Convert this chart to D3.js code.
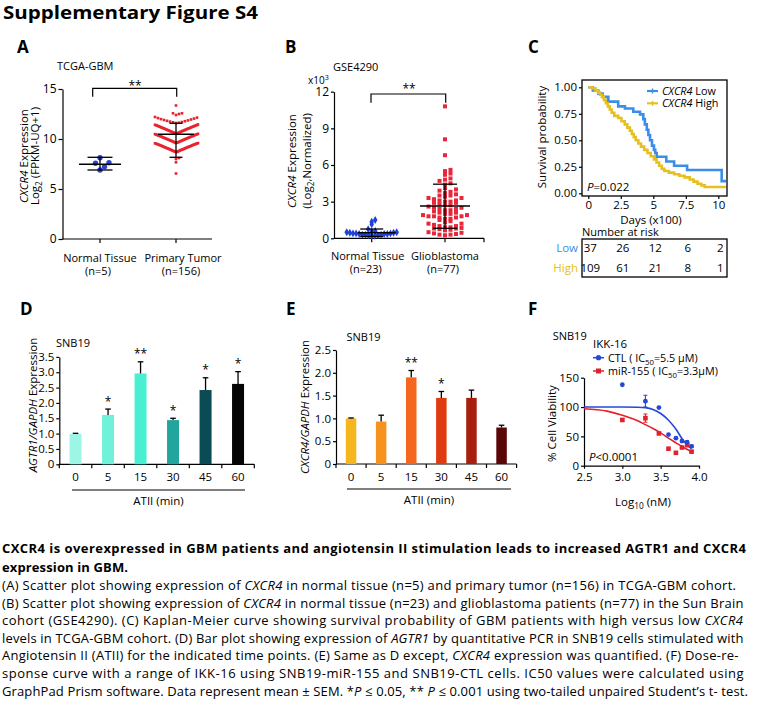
<!DOCTYPE html>
<html><head><meta charset="utf-8">
<script src="https://cdn.jsdelivr.net/npm/d3@7/dist/d3.min.js"></script>
<style>html,body{margin:0;padding:0;background:#fff;}svg{display:block}</style>
</head><body>
<svg id="fig" width="758" height="702" xmlns="http://www.w3.org/2000/svg"></svg>
<script>
// ================= DATA =================
// Panel A (TCGA-GBM)
const aCategories = ["Normal Tissue", "Primary Tumor"];
const aCounts = ["(n=5)", "(n=156)"];
const aNormal = [7.57, 6.9, 8.13, 7.23, 7.63];
const aTumor = [
  13.35, 12.57, 12.40, 12.50, 12.57, 8.10, 8.00, 7.67, 6.55,
  11.60, 11.63, 11.67, 11.70, 11.74, 11.78, 11.82, 11.86, 11.90, 11.95, 11.99, 12.04, 12.09, 12.14, 12.20,
  10.54, 10.56, 10.58, 10.60, 10.63, 10.64, 10.67, 10.69, 10.71, 10.73, 10.75, 10.78, 10.79, 10.82, 10.84,
  10.86, 10.88, 10.90, 10.92, 10.95, 10.96, 10.99, 11.01, 11.03, 11.05, 11.07, 11.09, 11.11, 11.13, 11.16,
  11.17, 11.20, 11.22, 11.24, 11.26, 11.28, 11.30, 11.32, 11.34, 11.36, 11.38, 11.40, 11.42, 11.45,
  9.61, 9.63, 9.65, 9.67, 9.70, 9.71, 9.74, 9.76, 9.78, 9.80, 9.83, 9.84, 9.87, 9.89, 9.91, 9.93, 9.95,
  9.98, 10.00, 10.02, 10.04, 10.06, 10.08, 10.10, 10.12, 10.15, 10.16, 10.19, 10.21, 10.23, 10.25, 10.27,
  10.29, 10.31, 10.33, 10.35, 10.37, 10.40, 10.41, 10.43, 10.45, 10.47, 10.49, 10.52,
  8.70, 8.71, 8.74, 8.75, 8.78, 8.81, 8.82, 8.85, 8.87, 8.90, 8.91, 8.94, 8.96, 8.97, 9.00, 9.02, 9.05,
  9.06, 9.08, 9.11, 9.12, 9.15, 9.17, 9.19, 9.21, 9.23, 9.26, 9.27, 9.30, 9.31, 9.34, 9.36, 9.38, 9.40,
  9.42, 9.44, 9.46, 9.48, 9.50, 9.51, 9.53, 9.55, 9.57, 9.59
];
const aMean = [7.47, 10.47];
const aErrUp = [8.17, 11.57];
const aErrDown = [6.9, 8.17];
const aYTicks = [0, 5, 10, 15];

// Panel B (GSE4290), x10^3
const bCategories = ["Normal Tissue", "Glioblastoma"];
const bCounts = ["(n=23)", "(n=77)"];
const bNormal = [1.5, 1.35, 1.15, 0.75, 0.6, 0.55, 0.5, 0.5, 0.45, 0.45, 0.4, 0.4, 0.4, 0.35, 0.35, 0.35, 0.3, 0.3, 0.3, 0.25, 0.25, 0.2, 0.2];
const bTumor = [10.8, 8.1, 6.8, 5.6, 5.5, 5.3, 5.2, 4.9, 4.8, 4.7, 4.5, 4.4, 4.1, 4.0, 3.9, 3.8, 3.7, 3.6, 3.5, 3.5,
  3.4, 3.3, 3.3, 3.2, 3.1, 3.1, 3.0, 3.0, 2.9, 2.9, 2.8, 2.7, 2.7, 2.6, 2.5, 2.5, 2.4, 2.4, 2.3, 2.3,
  2.2, 2.1, 2.1, 2.0, 2.0, 1.9, 1.9, 1.8, 1.8, 1.8, 1.7, 1.7, 1.6, 1.6, 1.5, 1.4, 1.3, 1.2, 1.2, 1.1, 1.0, 1.0,
  0.9, 0.9, 0.85, 0.8, 0.8, 0.75, 0.7, 0.65, 0.5, 0.45, 0.4, 0.35, 0.3, 0.3, 0.25];
const bMean = [0.46, 2.65];
const bErrUp = [0.76, 4.43];
const bErrDown = [0.15, 0.82];
const bYTicks = [0, 3, 6, 9, 12];

// Panel C (Kaplan-Meier)
const kmLowTime = [0, 0.35, 0.77, 1.1, 1.54, 2.3, 2.82, 3.46, 3.98, 4.23, 4.35, 4.5, 4.62, 4.75, 4.9, 5.05, 5.15, 5.26, 6.0, 6.6, 7.6, 10.26];
const kmLowSurv = [1.0, 0.97, 0.94, 0.91, 0.865, 0.82, 0.80, 0.77, 0.745, 0.70, 0.65, 0.60, 0.55, 0.50, 0.45, 0.41, 0.38, 0.345, 0.30, 0.26, 0.22, 0.115];
const kmHighTime = [0, 0.3, 0.55, 0.75, 0.9, 1.05, 1.2, 1.35, 1.5, 1.65, 1.8, 2.0, 2.3, 2.55, 2.8, 3.0, 3.2, 3.35, 3.5, 3.65,
  3.85, 4.05, 4.3, 4.55, 4.8, 5.05, 5.25, 5.45, 5.65, 5.85, 6.2, 6.6, 7.0, 7.4, 7.8, 8.1, 8.4, 8.7, 8.95];
const kmHighSurv = [1.0, 0.99, 0.97, 0.95, 0.93, 0.91, 0.88, 0.85, 0.82, 0.79, 0.76, 0.73, 0.71, 0.68, 0.65, 0.62, 0.59, 0.56, 0.53, 0.50,
  0.47, 0.44, 0.41, 0.38, 0.35, 0.32, 0.29, 0.26, 0.23, 0.21, 0.195, 0.18, 0.165, 0.15, 0.13, 0.11, 0.09, 0.075, 0.06];
const kmXTicks = [0, 2.5, 5, 7.5, 10];
const kmYTicks = [0, 0.25, 0.5, 0.75, 1];
const riskTimes = [0, 2.5, 5, 7.5, 10];
const riskLow = [37, 26, 12, 6, 2];
const riskHigh = [109, 61, 21, 8, 1];

// Panels D / E (ATII time course)
const timeLabels = ["0", "5", "15", "30", "45", "60"];
const dValues = [0.99, 1.61, 2.96, 1.44, 2.42, 2.62];
const dErr = [0.02, 0.19, 0.38, 0.06, 0.40, 0.40];
const dSig = ["", "*", "**", "*", "*", "*"];
const dYTicks = [0, 0.5, 1, 1.5, 2, 2.5, 3, 3.5];
const eValues = [1.0, 0.93, 1.9, 1.45, 1.45, 0.8];
const eErr = [0.01, 0.14, 0.15, 0.14, 0.17, 0.05];
const eSig = ["", "", "**", "*", "", ""];
const eYTicks = [0, 0.5, 1, 1.5, 2, 2.5];

// Panel F (IKK-16 dose response)
const fDose = [3.0, 3.301, 3.477, 3.602, 3.699, 3.778, 3.845, 3.903];
const fCtl = [138, 110, 99, 53, 47, 42, 40, 33];
const fCtlErr = [0, 10, 0, 0, 0, 2, 2, 2];
const fMir = [78, 81, 55, 29, 22, 31, 35, 24];
const fMirErr = [2, 7, 0, 0, 0, 0, 2, 2];
const fCurveX = [2.5, 2.8, 3.0, 3.2, 3.3, 3.4, 3.5, 3.6, 3.7, 3.8, 3.9];
const fCtlCurve = [100, 100, 100, 99.7, 99, 96, 89, 78, 62, 42, 29];
const fMirCurve = [97, 93, 86, 76.5, 70, 63.5, 56, 47, 39, 31, 24];
const fXTicks = [2.5, 3.0, 3.5, 4.0];
const fYTicks = [0, 50, 100, 150];

// Caption
const captionBold = [
  "CXCR4 is overexpressed in GBM patients and angiotensin II stimulation leads to increased AGTR1 and CXCR4",
  "expression in GBM."
];
const captionLines = [
  [["(A) Scatter plot showing expression of "], ["CXCR4", "i"], [" in normal tissue (n=5) and primary tumor (n=156) in TCGA-GBM cohort."]],
  [["(B) Scatter plot showing expression of "], ["CXCR4", "i"], [" in normal tissue (n=23) and glioblastoma patients (n=77) in the Sun Brain"]],
  [["cohort (GSE4290). (C) Kaplan-Meier curve showing survival probability of GBM patients with high versus low "], ["CXCR4", "i"]],
  [["levels in TCGA-GBM cohort. (D) Bar plot showing expression of "], ["AGTR1", "i"], [" by quantitative PCR in SNB19 cells stimulated with"]],
  [["Angiotensin II (ATII) for the indicated time points. (E) Same as D except, "], ["CXCR4", "i"], [" expression was quantified. (F) Dose-re-"]],
  [["sponse curve with a range of IKK-16 using SNB19-miR-155 and SNB19-CTL cells. IC50 values were calculated using"]],
  [["GraphPad Prism software. Data represent mean \u00b1 SEM. *"], ["P", "i"], [" \u2264 0.05, ** "], ["P", "i"], [" \u2264 0.001 using two-tailed unpaired Student\u2019s t- test."]]
];

// ================= DRAWING =================
const FONT = "'Open Sans', 'Liberation Sans', sans-serif";
const svg = d3.select("#fig");
svg.append("rect").attr("width", 758).attr("height", 702).attr("fill", "#fff");

function rich(t, segs, size) {
  let shift = 0;
  segs.forEach(s => {
    const str = Array.isArray(s) ? s[0] : s;
    const st = Array.isArray(s) && s[1] ? s[1] : "";
    const ts = t.append("tspan").text(str);
    let target = 0;
    if (st === "sub") target = size * 0.3;
    if (st === "sup") target = -size * 0.4;
    if (target !== shift) { ts.attr("dy", target - shift); shift = target; }
    if (st === "sub" || st === "sup") ts.attr("font-size", size * 0.72);
    if (st === "i") ts.attr("font-style", "italic");
  });
  return t;
}
function addText(x, y, segs, opt = {}) {
  const size = opt.size || 11.5;
  const t = svg.append("text").attr("x", x).attr("y", y)
    .attr("font-size", size).attr("font-family", FONT)
    .attr("text-anchor", opt.anchor || "start").attr("fill", opt.fill || "#000");
  if (opt.weight) t.attr("font-weight", opt.weight);
  if (opt.rotate) t.attr("transform", `rotate(-90,${x},${y})`);
  if (opt.len) t.attr("textLength", opt.len).attr("lengthAdjust", opt.adjust || "spacing");
  rich(t, typeof segs === "string" ? [segs] : segs, size);
  return t;
}
function styleAxis(g, size = 11.5) {
  g.selectAll("text").attr("font-size", size).attr("font-family", FONT).attr("fill", "#000");
  g.selectAll("line,path").attr("stroke", "#000").attr("stroke-width", 1.2);
}
function hline(x1, x2, y, w = 1.2) {
  svg.append("line").attr("x1", x1).attr("x2", x2).attr("y1", y).attr("y2", y).attr("stroke", "#000").attr("stroke-width", w);
}
function vline(x, y1, y2, w = 1.2) {
  svg.append("line").attr("x1", x).attr("x2", x).attr("y1", y1).attr("y2", y2).attr("stroke", "#000").attr("stroke-width", w);
}
function swarm(values, origin, binW, pitchMax, halfMax) {
  const bins = d3.group(values.map(v => ({ v })), d => Math.floor((d.v - origin) / binW));
  const out = [];
  for (const [, arr] of bins) {
    arr.sort((a, b) => a.v - b.v);
    const k = Math.ceil((arr.length - 1) / 2);
    const p = k > 0 ? Math.min(pitchMax, halfMax / k) : 0;
    arr.forEach((d, r) => {
      const s = r === 0 ? 0 : (r % 2 ? 1 : -1) * Math.ceil(r / 2);
      out.push({ v: d.v, dx: s * p });
    });
  }
  return out;
}

// Title
addText(3, 18.5, "Supplementary Figure S4", { size: 17, weight: "bold", len: 255, adjust: "spacingAndGlyphs" });

// Panel letters
[["A", 17, 53], ["B", 285, 53], ["C", 528, 53], ["D", 20, 315], ["E", 286, 315], ["F", 528, 315]]
  .forEach(([l, x, y]) => addText(x, y, l, { size: 17, weight: "bold" }));

// ---------- Panel A ----------
(function () {
  const y = d3.scaleLinear().domain([0, 15]).range([239, 89]);
  const x = d3.scalePoint().domain(aCategories).range([100, 176]);
  const gy = svg.append("g").attr("transform", "translate(62.5,0)")
    .call(d3.axisLeft(y).tickValues(aYTicks).tickSize(4).tickPadding(2).tickSizeOuter(0));
  styleAxis(gy, 12);
  hline(62, 212, 239);
  aCategories.forEach(c => vline(x(c), 239, 243));
  const nudge = [0, 7];
  aCategories.forEach((c, i) => {
    addText(x(c) + nudge[i], 262, c, { size: 11, anchor: "middle" });
    addText(x(c) + nudge[i] - 2, 275, aCounts[i], { size: 11, anchor: "middle" });
  });
  addText(57, 70, "TCGA-GBM", { size: 11 });
  addText(28, 156, [["CXCR4", "i"], [" Expression"]], { size: 11.5, anchor: "middle", rotate: true });
  addText(39, 156, [["Log"], ["2", "sub"], [" (FPKM-UQ+1)"]], { size: 11.5, anchor: "middle", rotate: true });

  swarm(aNormal, 6.5, 1.5, 4.5, 12).forEach(d => {
    svg.append("circle").attr("cx", x(aCategories[0]) + d.dx).attr("cy", y(d.v)).attr("r", 2.7).attr("fill", "#2b44d4");
  });
  swarm(aTumor, 7.74, 0.93, 3, 22).forEach(d => {
    svg.append("rect").attr("x", x(aCategories[1]) + d.dx - 1.3).attr("y", y(d.v) - 1.3)
      .attr("width", 2.6).attr("height", 2.6).attr("fill", "#e8232f");
  });
  const meanHalf = [21, 18], capHalf = [12.5, 6.5];
  aCategories.forEach((c, i) => {
    const cx = x(c);
    hline(cx - meanHalf[i], cx + meanHalf[i], y(aMean[i]), 1.4);
    vline(cx, y(aErrUp[i]), y(aErrDown[i]), 1.3);
    hline(cx - capHalf[i], cx + capHalf[i], y(aErrUp[i]), 1.3);
    hline(cx - capHalf[i], cx + capHalf[i], y(aErrDown[i]), 1.3);
  });
  svg.append("path").attr("d", `M92.7,96.7V88.3H176.7V96.7`).attr("fill", "none").attr("stroke", "#000").attr("stroke-width", 1.2);
  addText(135, 89.5, "**", { size: 12, anchor: "middle" });
})();

// ---------- Panel B ----------
(function () {
  const y = d3.scaleLinear().domain([0, 12]).range([238.3, 91.7]);
  const x = d3.scalePoint().domain(bCategories).range([371.7, 445]);
  const gy = svg.append("g").attr("transform", "translate(334,0)")
    .call(d3.axisLeft(y).tickValues(bYTicks).tickSize(3).tickPadding(2).tickSizeOuter(0));
  styleAxis(gy, 12);
  hline(334, 484, 238.3);
  bCategories.forEach(c => vline(x(c), 238.3, 242.3));
  vline(484, 238.3, 242.3);
  const nudge = [-4, 0];
  bCategories.forEach((c, i) => {
    addText(x(c) + nudge[i], 260, c, { size: 11, anchor: "middle" });
    addText(x(c) + nudge[i] - 2, 272.5, bCounts[i], { size: 11, anchor: "middle" });
  });
  addText(333, 71, "GSE4290", { size: 11 });
  addText(308, 83.5, [["x10"], ["3", "sup"]], { size: 10 });
  addText(296, 161, [["CXCR4", "i"], [" Expression"]], { size: 11.5, anchor: "middle", rotate: true });
  addText(311, 161, [["(Log"], ["2", "sub"], [",Normalized)"]], { size: 11.5, anchor: "middle", rotate: true });

  const diamond = d3.symbol().type(d3.symbolDiamond).size(18);
  swarm(bNormal, 0.18, 0.35, 3.5, 25).forEach(d => {
    svg.append("path").attr("d", diamond()).attr("transform", `translate(${x(bCategories[0]) + d.dx},${y(d.v)})`).attr("fill", "#2141d6");
  });
  swarm(bTumor, 0.18, 0.35, 5.5, 24).forEach(d => {
    svg.append("rect").attr("x", x(bCategories[1]) + d.dx - 2).attr("y", y(d.v) - 2)
      .attr("width", 4).attr("height", 4).attr("fill", "#e6283a");
  });
  const meanHalf = [19, 25], capHalf = [11.5, 12];
  bCategories.forEach((c, i) => {
    const cx = x(c);
    hline(cx - meanHalf[i] + (i === 0 ? 5 : 0), cx + meanHalf[i] + (i === 0 ? 5 : 0), y(bMean[i]), 1.4);
    vline(cx, y(bErrUp[i]), y(bErrDown[i]), 1.3);
    hline(cx - capHalf[i], cx + capHalf[i], y(bErrUp[i]), 1.3);
    hline(cx - capHalf[i], cx + capHalf[i], y(bErrDown[i]), 1.3);
  });
  svg.append("path").attr("d", `M371,102.7V94H445.7V102.7`).attr("fill", "none").attr("stroke", "#000").attr("stroke-width", 1.2);
  addText(409, 92.5, "**", { size: 12, anchor: "middle" });
})();

// ---------- Panel C ----------
(function () {
  const x = d3.scaleLinear().domain([0, 10]).range([588.3, 718.3]);
  const y = d3.scaleLinear().domain([0, 1]).range([193.3, 87.3]);
  const box = { x1: 582, x2: 727, y1: 80, y2: 196 };
  const gy = svg.append("g").attr("transform", `translate(${box.x1},0)`)
    .call(d3.axisLeft(y).tickValues(kmYTicks).tickFormat(d3.format(".2f")).tickSize(3).tickPadding(2).tickSizeOuter(0));
  styleAxis(gy, 11.5); gy.select(".domain").remove();
  const gx = svg.append("g").attr("transform", `translate(0,${box.y2})`)
    .call(d3.axisBottom(x).tickValues(kmXTicks).tickFormat(d => String(d)).tickSize(3).tickPadding(1.5).tickSizeOuter(0));
  styleAxis(gx, 11.5); gx.select(".domain").remove();
  svg.append("rect").attr("x", box.x1).attr("y", box.y1).attr("width", box.x2 - box.x1).attr("height", box.y2 - box.y1)
    .attr("fill", "none").attr("stroke", "#000").attr("stroke-width", 1.3);

  const tEnd = x.invert(box.x2 - 1);
  const line = d3.line().x(d => x(d[0])).y(d => y(d[1])).curve(d3.curveStepAfter);
  const low = kmLowTime.map((t, i) => [t, kmLowSurv[i]]); low.push([tEnd, kmLowSurv[kmLowSurv.length - 1]]);
  const high = kmHighTime.map((t, i) => [t, kmHighSurv[i]]); high.push([tEnd, kmHighSurv[kmHighSurv.length - 1]]);
  const cLow = "#3b8de8", cHigh = "#e6c020";
  svg.append("path").attr("d", line(low)).attr("fill", "none").attr("stroke", cLow).attr("stroke-width", 2.6);
  svg.append("path").attr("d", line(high)).attr("fill", "none").attr("stroke", cHigh).attr("stroke-width", 2.6);

  [[cLow, 91, "Low"], [cHigh, 103.3, "High"]].forEach(([c, ly, lab]) => {
    svg.append("line").attr("x1", 647).attr("x2", 658).attr("y1", ly).attr("y2", ly).attr("stroke", c).attr("stroke-width", 2.2);
    svg.append("line").attr("x1", 652.5).attr("x2", 652.5).attr("y1", ly - 2.5).attr("y2", ly + 2.5).attr("stroke", c).attr("stroke-width", 1.4);
    addText(662, ly + 3.8, [["CXCR4", "i"], [" " + lab]], { size: 10.8 });
  });
  addText(587, 191, [["P", "i"], ["=0.022"]], { size: 11.5 });
  addText(651, 224, "Days (x100)", { size: 11.5, anchor: "middle" });
  addText(546, 137, "Survival probability", { size: 11.5, anchor: "middle", rotate: true });

  addText(582, 236, "Number at risk", { size: 11 });
  svg.append("rect").attr("x", 582).attr("y", 239).attr("width", 145).attr("height", 38)
    .attr("fill", "none").attr("stroke", "#000").attr("stroke-width", 1.3);
  addText(578, 252, "Low", { size: 11.5, anchor: "end", fill: cLow });
  addText(578, 272, "High", { size: 11.5, anchor: "end", fill: cHigh });
  riskTimes.forEach((t, i) => {
    addText(x(t) + 2, 252, String(riskLow[i]), { size: 11.5, anchor: "middle" });
    addText(x(t) + 2, 272, String(riskHigh[i]), { size: 11.5, anchor: "middle" });
  });
})();

// ---------- Panels D & E ----------
function barPanel(cfg) {
  const y = d3.scaleLinear().domain([0, cfg.max]).range([cfg.y0, cfg.yTop]);
  const x = d3.scaleBand().domain(timeLabels).range([cfg.x0, cfg.x1]).padding(0);
  const gy = svg.append("g").attr("transform", `translate(${cfg.x0},0)`)
    .call(d3.axisLeft(y).tickValues(cfg.ticks).tickFormat(d => d === 0 ? "0" : d.toFixed(1)).tickSize(3).tickPadding(2).tickSizeOuter(0));
  styleAxis(gy, 11.5);
  hline(cfg.x0, cfg.x1, cfg.y0);
  for (let i = 0; i <= timeLabels.length; i++) vline(cfg.x0 + i * x.bandwidth(), cfg.y0, cfg.y0 + 4);
  const bw = cfg.barW;
  timeLabels.forEach((c, i) => {
    const cx = x(c) + x.bandwidth() / 2;
    svg.append("rect").attr("x", cx - bw / 2).attr("y", y(cfg.values[i])).attr("width", bw)
      .attr("height", cfg.y0 - y(cfg.values[i])).attr("fill", cfg.colors[i]);
    const top = y(cfg.values[i] + cfg.err[i]);
    vline(cx, y(cfg.values[i]), top, 1.3);
    hline(cx - 2.8, cx + 2.8, top, 1.3);
    if (cfg.sig[i]) addText(cx, top - 3.5, cfg.sig[i], { size: 12, anchor: "middle" });
    addText(cx, cfg.y0 + 16.5, c, { size: 11.5, anchor: "middle" });
  });
  hline(cfg.ulX1, cfg.ulX2, cfg.ulY, 1.2);
  addText((cfg.ulX1 + cfg.ulX2) / 2, cfg.ulY + 14.5, "ATII (min)", { size: 11.5, anchor: "middle" });
  addText(cfg.snbX, cfg.snbY, "SNB19", { size: 11 });
  addText(cfg.titleX, cfg.titleY, cfg.title, { size: 11.5, anchor: "middle", rotate: true });
}
barPanel({
  max: 3.5, y0: 464.3, yTop: 356.9, x0: 59.3, x1: 254.3, barW: 12, ticks: dYTicks,
  values: dValues, err: dErr, sig: dSig,
  colors: ["#9cf5e5", "#70f2da", "#48f0d1", "#21a59c", "#0b4b53", "#050505"],
  ulX1: 72, ulX2: 245, ulY: 490, snbX: 56, snbY: 347,
  titleX: 37, titleY: 405, title: [["AGTR1/GAPDH", "i"], [" Expression"]]
});
barPanel({
  max: 2.5, y0: 464, yTop: 350, x0: 336, x1: 516.6, barW: 10.5, ticks: eYTicks,
  values: eValues, err: eErr, sig: eSig,
  colors: ["#f6b61e", "#f6931f", "#f5661f", "#e03a11", "#a81f0d", "#5a0606"],
  ulX1: 347, ulX2: 511, ulY: 489, snbX: 346.5, snbY: 341,
  titleX: 309, titleY: 407, title: [["CXCR4/GAPDH", "i"], [" Expression"]]
});

// ---------- Panel F ----------
(function () {
  const x = d3.scaleLinear().domain([2.5, 4.0]).range([584, 699]);
  const y = d3.scaleLinear().domain([0, 150]).range([465.7, 377.7]);
  const gy = svg.append("g").attr("transform", "translate(584,0)")
    .call(d3.axisLeft(y).tickValues(fYTicks).tickSize(3).tickPadding(2).tickSizeOuter(0));
  styleAxis(gy, 11.5);
  const gx = svg.append("g").attr("transform", "translate(0,465.7)")
    .call(d3.axisBottom(x).tickValues(fXTicks).tickFormat(d => d.toFixed(1)).tickSize(3).tickPadding(4).tickSizeOuter(0));
  styleAxis(gx, 11.5);
  const cB = "#2448d8", cR = "#e0222d";
  const line = d3.line().x(d => x(d[0])).y(d => y(d[1])).curve(d3.curveMonotoneX);
  svg.append("path").attr("d", line(fCurveX.map((v, i) => [v, fMirCurve[i]]))).attr("fill", "none").attr("stroke", cR).attr("stroke-width", 1.6);
  svg.append("path").attr("d", line(fCurveX.map((v, i) => [v, fCtlCurve[i]]))).attr("fill", "none").attr("stroke", cB).attr("stroke-width", 1.6);
  fDose.forEach((d, i) => {
    const px = x(d);
    if (fMirErr[i] > 1) {
      svg.append("path").attr("d", `M${px - 2},${y(fMir[i] + fMirErr[i])}H${px + 2}M${px},${y(fMir[i] + fMirErr[i])}V${y(fMir[i] - fMirErr[i])}M${px - 2},${y(fMir[i] - fMirErr[i])}H${px + 2}`)
        .attr("stroke", cR).attr("stroke-width", 1.1).attr("fill", "none");
    }
    svg.append("rect").attr("x", px - 2.3).attr("y", y(fMir[i]) - 2.3).attr("width", 4.6).attr("height", 4.6).attr("fill", cR);
  });
  fDose.forEach((d, i) => {
    const px = x(d);
    if (fCtlErr[i] > 1) {
      svg.append("path").attr("d", `M${px - 2},${y(fCtl[i] + fCtlErr[i])}H${px + 2}M${px},${y(fCtl[i] + fCtlErr[i])}V${y(fCtl[i] - fCtlErr[i])}M${px - 2},${y(fCtl[i] - fCtlErr[i])}H${px + 2}`)
        .attr("stroke", cB).attr("stroke-width", 1.1).attr("fill", "none");
    }
    svg.append("circle").attr("cx", px).attr("cy", y(fCtl[i])).attr("r", 2.4).attr("fill", cB);
  });
  addText(552.7, 340, "SNB19", { size: 11 });
  addText(593, 347.5, "IKK-16", { size: 11.5 });
  svg.append("line").attr("x1", 593).attr("x2", 604).attr("y1", 357.7).attr("y2", 357.7).attr("stroke", cB).attr("stroke-width", 1.5);
  svg.append("circle").attr("cx", 598.5).attr("cy", 357.7).attr("r", 2.6).attr("fill", cB);
  addText(608, 361.5, [["CTL ( IC"], ["50", "sub"], ["=5.5 \u03bcM)"]], { size: 10.8 });
  svg.append("line").attr("x1", 593).attr("x2", 604).attr("y1", 371).attr("y2", 371).attr("stroke", cR).attr("stroke-width", 1.5);
  svg.append("rect").attr("x", 596).attr("y", 368.5).attr("width", 5).attr("height", 5).attr("fill", cR);
  addText(608, 375, [["miR-155 ( IC"], ["50", "sub"], ["=3.3\u03bcM)"]], { size: 10.8 });
  addText(589, 461, [["P", "i"], ["<0.0001"]], { size: 11.5 });
  addText(643, 506, [["Log"], ["10", "sub"], [" (nM)"]], { size: 11.5, anchor: "middle" });
  addText(556, 423.5, "% Cell Viability", { size: 11.5, anchor: "middle", rotate: true });
})();

// ---------- Caption ----------
const boldWidths = [744, 126];
captionBold.forEach((s, i) => addText(2, 553.3 + i * 18.3, s, { size: 13, weight: "bold", len: boldWidths[i] }));
const lineWidths = [734, 741.5, 741, 741.5, 736.5, 741.5, 746];
captionLines.forEach((segs, i) => addText(2, 590 + i * 17.6, segs, { size: 13, len: lineWidths[i] }));
</script>
</body></html>
